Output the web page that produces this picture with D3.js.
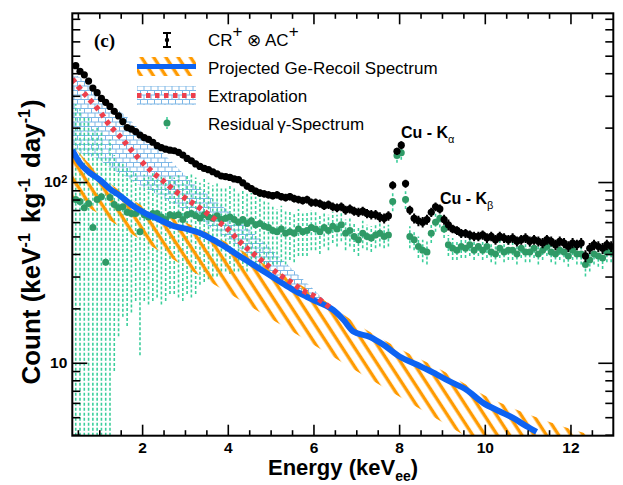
<!DOCTYPE html>
<html>
<head>
<meta charset="utf-8">
<script src="https://cdn.jsdelivr.net/npm/d3@7"></script>
<style>
  html, body { margin: 0; padding: 0; background: #fff; }
  svg { display: block; font-family: "Liberation Sans", Arial, Helvetica, sans-serif; }
</style>
</head>
<body>
<svg id="chart" width="623" height="485"></svg>
<script>
// ---- Measured spectra (bin centres in keVee, counts in keV^-1 kg^-1 day^-1) ----
const energy = [
  0.45,0.55,0.65,0.75,0.85,0.95,1.05,1.15,1.25,1.35,1.45,1.55,1.65,1.75,1.85,1.95,
  2.05,2.15,2.25,2.35,2.45,2.55,2.65,2.75,2.85,2.95,3.05,3.15,3.25,3.35,3.45,3.55,
  3.65,3.75,3.85,3.95,4.05,4.15,4.25,4.35,4.45,4.55,4.65,4.75,4.85,4.95,5.05,5.15,
  5.25,5.35,5.45,5.55,5.65,5.75,5.85,5.95,6.05,6.15,6.25,6.35,6.45,6.55,6.65,6.75,
  6.85,6.95,7.05,7.15,7.25,7.35,7.45,7.55,7.65,7.75,7.85,7.95,8.05,8.15,8.25,8.35,
  8.45,8.55,8.65,8.75,8.85,8.95,9.05,9.15,9.25,9.35,9.45,9.55,9.65,9.75,9.85,9.95,
  10.05,10.15,10.25,10.35,10.45,10.55,10.65,10.75,10.85,10.95,11.05,11.15,11.25,11.35,
  11.45,11.55,11.65,11.75,11.85,11.95,12.05,12.15,12.25,12.35,12.45,12.55,12.65,12.75,
  12.85,12.95
];

// CR+ (x) AC+ selected spectrum and its uncertainty
const crAcCounts = [
  440,410,392,362,331,312,290,276,262,246,232,216,200,196,190,182,
  176,172,166,159,155,152,150,149,146,141,135,131,126,122,119,117,
  114,111,108,107,106,104,103,99,95,92,89,87,86,85,84,85,
  83,82,83,81,80,79,80,77,77,76,74,75,73,72,73,70,
  71,69,68,69,67,66,66,64,63,65,96,148,160,98,70,63,
  61,60,62,68,73,71,62,58,55,54,52,52,51,50,50,51,
  49,50,48,50,49,48,49,47,48,49,47,48,47,46,
  48,47,45,47,46,44,46,45,46,39,43,45,44,43,
  45,44
];
const crAcErr = [
  9,9,8,8,8,7,7,7,7,6,6,6,6,6,6,5,
  5,5,5,5,5,5,5,5,5,5,5,5,5,5,4,4,
  4,4,4,4,4,4,4,4,4,4,4,4,4,4,4,4,
  4,4,4,4,4,4,4,4,4,4,4,4,4,4,4,4,
  4,4,4,4,4,4,4,4,4,4,5,7,8,5,4,4,
  4,4,4,4,4,4,4,4,3,3,3,3,3,3,3,3,
  3,3,3,3,3,3,3,3,3,3,3,3,3,3,
  3,3,3,3,3,3,3,3,3,3,3,3,3,3,
  3,3
];

// Residual gamma spectrum and its uncertainty
const residualCounts = [
  80,78,72,76,56,80,83,36,82,75,72,73,68,67,67,53,
  66,64,67,67,64,62,66,65,66,62,66,67,65,63,66,64,
  63,65,62,63,64,62,60,62,59,61,58,59,57,56,54,53,
  55,52,53,52,55,53,54,56,55,53,56,54,57,55,58,52,
  54,50,48,52,50,49,51,52,50,51,78,140,145,80,50,48,
  44,42,41,52,60,63,55,45,43,42,44,43,45,42,44,42,
  44,41,40,43,41,42,42,40,43,41,41,43,40,42,
  44,41,40,42,41,39,42,40,40,35,37,40,39,38,
  41,41
];
const residualErr = [
  190,175,160,150,140,125,110,100,90,66,58,55,52,48,45,42,
  44,43,45,44,43,40,42,41,43,40,42,44,41,36,38,35,
  33,35,32,31,33,30,28,29,27,26,25,25,22,21,19,18,
  19,17,16,16,16,14,15,14,13,13,12,12,11,11,11,10,
  10,9,9,9,8,8,8,8,7,7,9,12,12,9,7,6,
  6,6,6,6,7,7,6,6,6,5,6,5,6,5,5,5,
  6,5,5,5,5,5,5,5,5,5,5,5,5,5,
  5,5,5,5,5,5,5,5,5,5,5,5,5,5,
  5,5
];

// Projected Ge-recoil spectrum (central curve)
const projEnergy = [0.37,0.55,0.79,1.02,1.25,1.49,1.79,2.11,2.42,2.73,3.04,3.35,3.66,3.98,4.29,4.60,
  4.91,5.22,5.53,5.84,6.08,6.46,6.70,6.93,7.32,7.63,8.02,8.41,8.80,9.18,9.57,9.96,10.35,10.66,10.97,11.21];
const projCounts = [150,127,112,102.5,91.5,83.7,73.7,66.5,61.7,57.1,55.0,52.3,47.8,43.2,38.7,34.8,
  31.3,28.1,25.3,23.2,21.8,19.6,17.3,14.9,13.9,12.6,10.8,9.78,8.83,7.89,7.09,6.0,5.38,4.95,4.46,4.15];

// Projected Ge-recoil uncertainty band
const projBandEnergy = [0.37,1,2,3,4,5,6,7,8,9,10,11,11.75,12.3,12.6];
const projBandHigh   = [160,111,74,60,46,33.5,24.4,16.5,12,9.1,6.6,5.2,4.5,4.1,3.9];
const projBandLow    = [81.6,66.5,47.5,34,24.4,17.5,12.6,9.0,6.5,4.7,3.4,2.5,2.0,1.7,1.6];

// Extrapolation curve and its band
const extrapEnergy = [0.37,0.5,0.75,1.0,1.25,1.5,1.75,2.0,2.25,2.5,2.75,3.0,3.25,3.5,3.75,4.0,
  4.25,4.5,4.75,5.0,5.25,5.5,5.75,6.0,6.25,6.4];
const extrapCounts = [372,340,290,248,205,177,150,129,113,101,90,81.5,74.5,67.5,61,55,
  47.5,42,37.5,33.5,30.2,27.7,25.1,23.5,21.4,20.1];
const extrapBandEnergy = [0.37,0.75,1.0,1.25,1.65,2.0,2.42,2.8,3.19,3.6,3.98,4.5,5.0,5.5,6.0,6.4];
const extrapBandHigh   = [400,350,305,270,229,188,150,122,99,83,70,55,43,33,25.5,20.5];
const extrapBandLow    = [150,140,133,120,106,94,84,74,66,56,48.5,38.5,31.5,26.5,22.3,20.1];

// Axis ticks
const xMajorTicks = [2,4,6,8,10,12];
const xMinorTicks = [0.5,1,1.5,2.5,3,3.5,4.5,5,5.5,6.5,7,7.5,8.5,9,9.5,10.5,11,11.5,12.5];
const yMajorTicks = [10,100];
const yMinorTicks = [4,5,6,7,8,9,20,30,40,50,60,70,80,90,200,300,400,500,600,700,800];

// ---- Colours ----
const C = {
  black: "#000",
  green: "#2f9a66",
  greenErr: "#3ccf9c",
  blue: "#0d63f2",
  orange: "#ff9a00",
  red: "#ee3f4c",
  grid: "#7db7e6"
};

const frame = {left: 72.3, top: 13.3, right: 613.3, bottom: 435.7};
const x = d3.scaleLinear().domain([0.37, 13]).range([frame.left, frame.right]);
const y = d3.scaleLog().domain([3.95, 858]).range([frame.bottom, frame.top]);

const svg = d3.select("#chart");
const defs = svg.append("defs");

defs.append("clipPath").attr("id", "plotClip")
  .append("rect")
  .attr("x", frame.left).attr("y", frame.top)
  .attr("width", frame.right - frame.left).attr("height", frame.bottom - frame.top);

// diagonal orange hatch
const hatch = defs.append("pattern").attr("id", "hatch")
  .attr("patternUnits", "userSpaceOnUse")
  .attr("width", 10.3).attr("height", 10)
  .attr("patternTransform", "rotate(-33)");
hatch.append("line").attr("x1", 5).attr("x2", 5).attr("y1", -1).attr("y2", 11)
  .attr("stroke", C.orange).attr("stroke-width", 3.4);

// light-blue brick grid
const grid = defs.append("pattern").attr("id", "grid")
  .attr("patternUnits", "userSpaceOnUse")
  .attr("width", 7).attr("height", 9);
grid.append("path")
  .attr("d", "M0,0.5H7M0,5H7M0.5,0.5V5M4,5V9")
  .attr("stroke", C.grid).attr("stroke-width", 1).attr("fill", "none");

const plot = svg.append("g").attr("clip-path", "url(#plotClip)");

// extrapolation band
const extrapBand = extrapBandEnergy.map((e, i) => ({e, lo: extrapBandLow[i], hi: extrapBandHigh[i]}));
const bandArea = d3.area()
  .x(d => x(d.e)).y0(d => y(d.lo)).y1(d => y(d.hi))
  .curve(d3.curveMonotoneX);
plot.append("path").datum(extrapBand)
  .attr("d", bandArea).attr("fill", "url(#grid)");

// residual spectrum error bars (dashed)
const residual = energy.map((e, i) => ({e, v: residualCounts[i], s: residualErr[i]}));
plot.append("g").selectAll("line").data(residual).join("line")
  .attr("x1", d => x(d.e)).attr("x2", d => x(d.e))
  .attr("y1", d => d.v - d.s > 0 ? Math.min(y(d.v - d.s), frame.bottom) : frame.bottom)
  .attr("y2", d => y(d.v + d.s))
  .attr("stroke", C.greenErr).attr("stroke-width", 1.6)
  .attr("stroke-dasharray", "3,2");

// projected recoil band
const projBand = projBandEnergy.map((e, i) => ({e, lo: projBandLow[i], hi: projBandHigh[i]}));
plot.append("path").datum(projBand)
  .attr("d", bandArea).attr("fill", "url(#hatch)");

// residual spectrum markers
plot.append("g").selectAll("circle").data(residual).join("circle")
  .attr("cx", d => x(d.e)).attr("cy", d => y(d.v)).attr("r", 3.5)
  .attr("fill", C.green);

// projected recoil curve
const proj = projEnergy.map((e, i) => ({e, v: projCounts[i]}));
const curve = d3.line().x(d => x(d.e)).y(d => y(d.v)).curve(d3.curveMonotoneX);
plot.append("path").datum(proj)
  .attr("d", curve).attr("fill", "none")
  .attr("stroke", C.blue).attr("stroke-width", 6).attr("stroke-linejoin", "round");

// extrapolation curve
const extrap = extrapEnergy.map((e, i) => ({e, v: extrapCounts[i]}));
plot.append("path").datum(extrap)
  .attr("d", curve).attr("fill", "none")
  .attr("stroke", C.red).attr("stroke-width", 5.5)
  .attr("stroke-dasharray", "4.5,4.5");

// CR+ (x) AC+ error bars and markers
const crAc = energy.map((e, i) => ({e, v: crAcCounts[i], s: crAcErr[i]}));
plot.append("g").selectAll("line").data(crAc).join("line")
  .attr("x1", d => x(d.e)).attr("x2", d => x(d.e))
  .attr("y1", d => y(d.v - d.s)).attr("y2", d => y(d.v + d.s))
  .attr("stroke", C.black).attr("stroke-width", 2);
plot.append("g").selectAll("circle").data(crAc).join("circle")
  .attr("cx", d => x(d.e)).attr("cy", d => y(d.v)).attr("r", 3.6)
  .attr("fill", C.black);

// ---- Axes (ticks inside on all four sides) ----
function styleAxis(g) {
  g.select(".domain").remove();
  g.selectAll(".tick line").attr("stroke", "#000").attr("stroke-width", 1.6);
  g.selectAll("text")
    .attr("font-family", "'Liberation Sans', Arial, sans-serif")
    .attr("font-weight", "bold").attr("font-size", 15.5).attr("fill", "#000");
}
const fmt = d3.format("d");

svg.append("g").attr("transform", `translate(0,${frame.bottom})`)
  .call(d3.axisBottom(x).tickValues(xMajorTicks).tickSize(-11).tickPadding(6).tickFormat(fmt))
  .call(styleAxis);
svg.append("g").attr("transform", `translate(0,${frame.bottom})`)
  .call(d3.axisBottom(x).tickValues(xMinorTicks).tickSize(-5.5).tickFormat(""))
  .call(styleAxis);
svg.append("g").attr("transform", `translate(0,${frame.top})`)
  .call(d3.axisTop(x).tickValues(xMajorTicks).tickSize(-11).tickFormat(""))
  .call(styleAxis);
svg.append("g").attr("transform", `translate(0,${frame.top})`)
  .call(d3.axisTop(x).tickValues(xMinorTicks).tickSize(-5.5).tickFormat(""))
  .call(styleAxis);

const yAxisG = svg.append("g").attr("transform", `translate(${frame.left},0)`)
  .call(d3.axisLeft(y).tickValues(yMajorTicks).tickSize(-15).tickPadding(5).tickFormat(() => "10"))
  .call(styleAxis);
yAxisG.selectAll(".tick text").filter(d => d === 100)
  .append("tspan").attr("dy", "-0.45em").attr("font-size", 11).text("2");
svg.append("g").attr("transform", `translate(${frame.left},0)`)
  .call(d3.axisLeft(y).tickValues(yMinorTicks).tickSize(-8).tickFormat(""))
  .call(styleAxis);
svg.append("g").attr("transform", `translate(${frame.right},0)`)
  .call(d3.axisRight(y).tickValues(yMajorTicks).tickSize(-15).tickFormat(""))
  .call(styleAxis);
svg.append("g").attr("transform", `translate(${frame.right},0)`)
  .call(d3.axisRight(y).tickValues(yMinorTicks).tickSize(-8).tickFormat(""))
  .call(styleAxis);

// frame
svg.append("rect")
  .attr("x", frame.left).attr("y", frame.top)
  .attr("width", frame.right - frame.left).attr("height", frame.bottom - frame.top)
  .attr("fill", "none").attr("stroke", "#000").attr("stroke-width", 2);

// axis titles
const xt = svg.append("text")
  .attr("x", 343).attr("y", 475).attr("text-anchor", "middle")
  .attr("font-weight", "bold").attr("font-size", 22);
xt.append("tspan").text("Energy (keV");
xt.append("tspan").attr("dy", 6).attr("font-size", 14).text("ee");
xt.append("tspan").attr("dy", -6).text(")");

const yt = svg.append("text")
  .attr("transform", "translate(40,242) rotate(-90)")
  .attr("text-anchor", "middle").attr("font-weight", "bold").attr("font-size", 26);
yt.append("tspan").text("Count (keV");
yt.append("tspan").attr("dy", -10).attr("font-size", 16).text("-1");
yt.append("tspan").attr("dy", 10).attr("dx", 3).text(" kg");
yt.append("tspan").attr("dy", -10).attr("font-size", 16).text("-1");
yt.append("tspan").attr("dy", 10).attr("dx", 3).text(" day");
yt.append("tspan").attr("dy", -10).attr("font-size", 16).text("-1");
yt.append("tspan").attr("dy", 10).attr("dx", 1).text(")");

// panel tag
svg.append("text").attr("x", 94).attr("y", 47)
  .attr("font-family", "'Liberation Serif', 'Times New Roman', serif")
  .attr("font-weight", "bold").attr("font-size", 19).text("(c)");

// ---- Legend ----
const lg = svg.append("g");
const symX0 = 137, symX1 = 196, symXc = 167, textX = 208;

// CR+ (x) AC+ : marker with error bar
lg.append("line").attr("x1", symXc).attr("x2", symXc).attr("y1", 33).attr("y2", 47)
  .attr("stroke", "#000").attr("stroke-width", 2);
lg.append("line").attr("x1", symXc - 4).attr("x2", symXc + 4).attr("y1", 33).attr("y2", 33)
  .attr("stroke", "#000").attr("stroke-width", 2);
lg.append("line").attr("x1", symXc - 4).attr("x2", symXc + 4).attr("y1", 47).attr("y2", 47)
  .attr("stroke", "#000").attr("stroke-width", 2);
lg.append("circle").attr("cx", symXc).attr("cy", 40).attr("r", 2.2).attr("fill", "#000");
const t1 = lg.append("text").attr("x", textX).attr("y", 46).attr("font-size", 17);
t1.append("tspan").text("CR");
t1.append("tspan").attr("dy", -9).text("+");
t1.append("tspan").attr("dy", 9).text(" ⊗ AC");
t1.append("tspan").attr("dy", -9).text("+");

// projected recoil: hatched box with curve
lg.append("rect").attr("x", symX0).attr("y", 57).attr("width", symX1 - symX0).attr("height", 19)
  .attr("fill", "url(#hatch)");
lg.append("line").attr("x1", symX0).attr("x2", symX1).attr("y1", 66.5).attr("y2", 66.5)
  .attr("stroke", C.blue).attr("stroke-width", 5);
lg.append("text").attr("x", textX).attr("y", 74).attr("font-size", 17)
  .text("Projected Ge-Recoil Spectrum");

// extrapolation: grid box with dotted curve
lg.append("rect").attr("x", symX0).attr("y", 86).attr("width", symX1 - symX0).attr("height", 19)
  .attr("fill", "url(#grid)");
lg.append("line").attr("x1", symX0).attr("x2", symX1).attr("y1", 95.5).attr("y2", 95.5)
  .attr("stroke", C.red).attr("stroke-width", 5).attr("stroke-dasharray", "4.5,4.5");
lg.append("text").attr("x", textX).attr("y", 102).attr("font-size", 17)
  .text("Extrapolation");

// residual spectrum
lg.append("line").attr("x1", symXc).attr("x2", symXc).attr("y1", 117).attr("y2", 129)
  .attr("stroke", C.greenErr).attr("stroke-width", 1.5).attr("stroke-dasharray", "3,2");
lg.append("circle").attr("cx", symXc).attr("cy", 123).attr("r", 3.5).attr("fill", C.green);
const t4 = lg.append("text").attr("x", textX).attr("y", 130).attr("font-size", 17);
t4.append("tspan").text("Residual");
t4.append("tspan").attr("dx", 3).text("γ-Spectrum");

// ---- Peak annotations ----
const ka = svg.append("text").attr("x", 401).attr("y", 138)
  .attr("font-weight", "bold").attr("font-size", 16);
ka.append("tspan").text("Cu - K");
ka.append("tspan").attr("dy", 5).attr("font-size", 11).attr("font-weight", "normal").text("α");
const kb = svg.append("text").attr("x", 440).attr("y", 204)
  .attr("font-weight", "bold").attr("font-size", 16);
kb.append("tspan").text("Cu - K");
kb.append("tspan").attr("dy", 5).attr("font-size", 11).attr("font-weight", "normal").text("β");
</script>
</body>
</html>
